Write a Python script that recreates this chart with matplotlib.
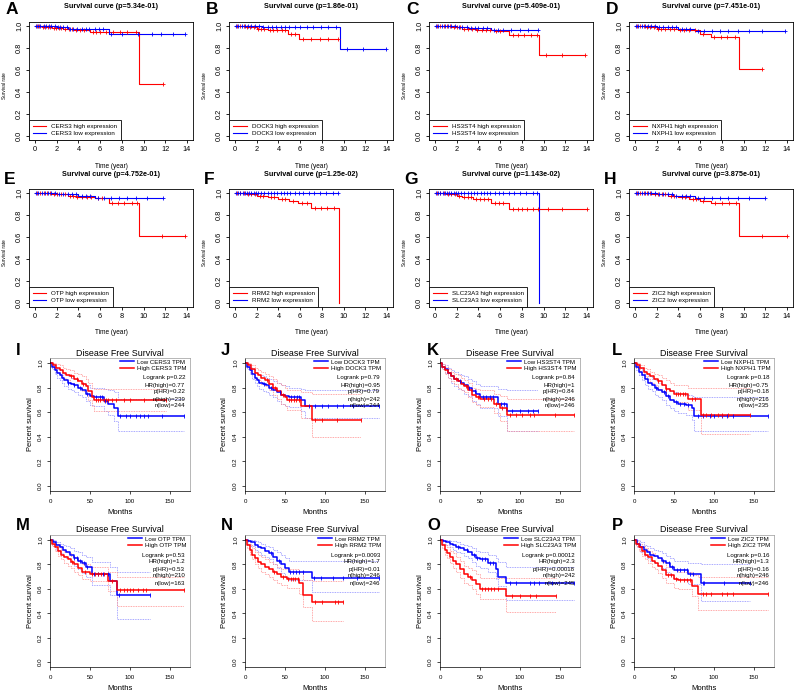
import numpy as np
import matplotlib
matplotlib.use('Agg')
import matplotlib.pyplot as plt

plt.rcParams['font.family'] = ['Liberation Sans', 'DejaVu Sans']

# ------------------------------------------------------------------ data
genes = ['CERS3', 'DOCK3', 'HS3ST4', 'NXPH1', 'OTP', 'RRM2', 'SLC23A3', 'ZIC2']
top_letters = ['A', 'B', 'C', 'D', 'E', 'F', 'G', 'H']
bot_letters = ['I', 'J', 'K', 'L', 'M', 'N', 'O', 'P']
top_pvals = ['5.34e-01', '1.86e-01', '5.409e-01', '7.451e-01',
             '4.752e-01', '1.25e-02', '1.143e-02', '3.875e-01']

# --- survival curves (years): high expression (red) / low expression (blue)
A_hi_t = [0, 0.6, 1.6, 2.6, 3.6, 5.1, 9.6]
A_hi_s = [1.0, 0.99, 0.985, 0.98, 0.97, 0.945, 0.47]
A_hi_end = 11.8
A_hi_c = [0.2, 0.4, 0.7, 0.9, 1.2, 1.4, 1.7, 1.9, 2.2, 2.4, 2.8, 3.1, 3.4, 3.8, 4.1, 4.5,
          5.3, 5.6, 6.0, 6.5, 7.2, 7.8, 8.5, 9.3, 11.8]
A_lo_t = [0, 2.0, 3.0, 4.2, 6.8]
A_lo_s = [1.0, 0.99, 0.98, 0.975, 0.93]
A_lo_end = 13.8
A_lo_c = [0.1, 0.3, 0.5, 0.8, 1.0, 1.3, 1.5, 1.8, 2.1, 2.3, 2.6, 2.9, 3.2, 3.5, 3.9, 4.3,
          4.7, 5.0, 5.5, 5.9, 6.3, 7.0, 8.0, 9.5, 10.8, 11.6, 12.7, 13.8]

B_hi_t = [0, 1.0, 2.0, 3.0, 4.9, 5.9]
B_hi_s = [1.0, 0.99, 0.98, 0.97, 0.93, 0.88]
B_hi_end = 9.5
B_hi_c = [0.2, 0.5, 0.8, 1.1, 1.4, 1.7, 2.1, 2.4, 2.7, 3.2, 3.5, 3.9, 4.3, 4.6, 5.2, 5.5,
          6.3, 7.0, 7.8, 8.6, 9.5]
B_lo_t = [0, 2.5, 9.7]
B_lo_s = [1.0, 0.995, 0.79]
B_lo_end = 13.9
B_lo_c = [0.1, 0.3, 0.6, 0.9, 1.2, 1.5, 1.8, 2.2, 2.6, 3.0, 3.4, 3.8, 4.2, 4.6, 5.0, 5.5,
          6.0, 6.6, 7.2, 7.9, 8.6, 9.3, 10.3, 11.8, 13.9]

C_hi_t = [0, 1.5, 2.5, 3.8, 5.5, 6.8, 9.6]
C_hi_s = [1.0, 0.99, 0.98, 0.97, 0.96, 0.92, 0.735]
C_hi_end = 13.8
C_hi_c = [0.2, 0.5, 0.8, 1.1, 1.4, 1.7, 2.0, 2.3, 2.7, 3.0, 3.4, 3.9, 4.3, 4.7, 5.1, 5.6,
          6.0, 7.2, 7.6, 8.2, 8.8, 9.4, 10.2, 11.7, 13.8]
C_lo_t = [0, 2.0, 3.0, 5.2]
C_lo_s = [1.0, 0.99, 0.985, 0.965]
C_lo_end = 9.5
C_lo_c = [0.1, 0.3, 0.6, 0.9, 1.2, 1.5, 1.8, 2.2, 2.5, 2.9, 3.3, 3.7, 4.0, 4.4, 4.8,
          5.4, 5.8, 6.3, 7.0, 7.8, 8.6, 9.5]

D_hi_t = [0, 1.0, 2.0, 4.0, 6.0, 7.0, 9.6]
D_hi_s = [1.0, 0.99, 0.98, 0.97, 0.93, 0.90, 0.61]
D_hi_end = 11.7
D_hi_c = [0.2, 0.5, 0.8, 1.1, 1.4, 1.7, 2.1, 2.4, 2.8, 3.2, 3.6, 4.1, 4.5, 5.0, 5.5,
          6.3, 7.3, 7.9, 8.5, 9.2, 11.7]
D_lo_t = [0, 2.0, 4.0, 5.5]
D_lo_s = [1.0, 0.99, 0.975, 0.955]
D_lo_end = 13.8
D_lo_c = [0.1, 0.3, 0.6, 0.9, 1.2, 1.5, 1.8, 2.2, 2.6, 3.0, 3.4, 3.8, 4.3, 4.7, 5.1,
          5.8, 6.4, 7.1, 7.8, 8.6, 9.5, 10.5, 11.7, 13.8]

E_hi_t = [0, 1.5, 3.0, 3.8, 5.5, 6.8, 9.6]
E_hi_s = [1.0, 0.99, 0.98, 0.97, 0.96, 0.915, 0.61]
E_hi_end = 13.8
E_hi_c = [0.2, 0.5, 0.8, 1.1, 1.4, 1.7, 2.0, 2.4, 2.8, 3.2, 3.5, 3.9, 4.3, 4.8, 5.2,
          5.8, 6.2, 7.1, 7.6, 8.2, 8.9, 9.4, 11.7, 13.8]
E_lo_t = [0, 2.0, 4.0, 5.5]
E_lo_s = [1.0, 0.99, 0.98, 0.955]
E_lo_end = 11.8
E_lo_c = [0.1, 0.3, 0.6, 0.9, 1.2, 1.5, 1.8, 2.2, 2.6, 3.0, 3.4, 3.8, 4.3, 4.7, 5.1,
          5.8, 6.4, 7.0, 7.7, 8.5, 9.3, 10.3, 11.8]

F_hi_t = [0, 1.0, 2.0, 3.0, 4.0, 5.0, 5.8, 7.0, 9.6]
F_hi_s = [1.0, 0.99, 0.98, 0.97, 0.95, 0.93, 0.91, 0.87, 0.0]
F_hi_end = 9.6
F_hi_c = [0.2, 0.5, 0.8, 1.2, 1.5, 1.8, 2.3, 2.6, 3.3, 3.6, 4.3, 4.6, 5.3, 6.2, 6.6,
          7.4, 7.9, 8.5, 9.1]
F_lo_t = [0]
F_lo_s = [1.0]
F_lo_end = 9.5
F_lo_c = [0.1, 0.3, 0.5, 0.7, 0.9, 1.1, 1.3, 1.5, 1.7, 1.9, 2.1, 2.4, 2.7, 3.0, 3.3, 3.6,
          3.9, 4.2, 4.5, 4.8, 5.1, 5.5, 5.9, 6.3, 6.8, 7.3, 7.8, 8.4, 9.0, 9.5]

G_hi_t = [0, 1.0, 2.0, 2.5, 3.5, 5.2, 6.8]
G_hi_s = [1.0, 0.99, 0.98, 0.965, 0.945, 0.915, 0.855]
G_hi_end = 14.0
G_hi_c = [0.2, 0.5, 0.8, 1.2, 1.5, 1.8, 2.2, 2.7, 3.0, 3.3, 3.8, 4.1, 4.5, 4.9, 5.5,
          5.9, 6.3, 7.2, 7.6, 8.0, 8.5, 9.0, 9.5, 10.4, 11.7, 14.0]
G_lo_t = [0, 9.6]
G_lo_s = [1.0, 0.0]
G_lo_end = 9.6
G_lo_c = [0.1, 0.3, 0.5, 0.7, 0.9, 1.1, 1.3, 1.5, 1.7, 1.9, 2.1, 2.4, 2.7, 3.0, 3.3, 3.6,
          3.9, 4.2, 4.5, 4.8, 5.1, 5.5, 5.9, 6.3, 6.8, 7.3, 7.8, 8.4, 9.0, 9.4]

H_hi_t = [0, 1.5, 3.0, 4.0, 5.0, 6.0, 7.0, 9.6]
H_hi_s = [1.0, 0.99, 0.98, 0.97, 0.95, 0.93, 0.91, 0.61]
H_hi_end = 14.0
H_hi_c = [0.2, 0.5, 0.8, 1.1, 1.4, 1.8, 2.1, 2.5, 2.8, 3.3, 3.6, 4.3, 4.6, 5.3, 5.6,
          6.3, 7.4, 8.0, 8.7, 9.3, 11.7, 14.0]
H_lo_t = [0, 2.0, 3.5, 5.5]
H_lo_s = [1.0, 0.99, 0.975, 0.955]
H_lo_end = 12.0
H_lo_c = [0.1, 0.3, 0.6, 0.9, 1.2, 1.5, 1.8, 2.2, 2.6, 3.0, 3.4, 3.8, 4.3, 4.7, 5.1,
          5.8, 6.4, 7.1, 7.8, 8.6, 9.5, 10.5, 12.0]

# --- disease free survival (months): low TPM (blue) / high TPM (red), with 95% CI
I_lo_t = [0, 3, 6, 9, 12, 15, 18, 22, 26, 30, 35, 40, 45, 50, 55, 68, 72, 80, 85]
I_lo_s = [1.0, 0.97, 0.94, 0.92, 0.90, 0.88, 0.86, 0.84, 0.83, 0.82, 0.80, 0.78, 0.75, 0.73, 0.72, 0.69, 0.67, 0.63, 0.57]
I_lo_hi = [1.0, 0.99, 0.97, 0.95, 0.94, 0.92, 0.91, 0.89, 0.88, 0.87, 0.86, 0.84, 0.82, 0.80, 0.80, 0.79, 0.78, 0.76, 0.71]
I_lo_lo = [1.0, 0.95, 0.91, 0.88, 0.86, 0.84, 0.81, 0.79, 0.78, 0.76, 0.74, 0.72, 0.69, 0.66, 0.65, 0.61, 0.58, 0.53, 0.45]
I_lo_end = 168
I_lo_c = [22, 30, 38, 46, 58, 62, 65, 69, 88, 95, 100, 108, 112, 118, 122, 140, 168]
I_hi_t = [0, 4, 8, 12, 16, 20, 25, 30, 35, 40, 45, 48, 52, 55]
I_hi_s = [1.0, 0.98, 0.96, 0.94, 0.92, 0.90, 0.89, 0.87, 0.85, 0.83, 0.81, 0.77, 0.72, 0.70]
I_hi_hi = [1.0, 1.0, 0.99, 0.98, 0.96, 0.95, 0.94, 0.92, 0.91, 0.89, 0.87, 0.84, 0.80, 0.79]
I_hi_lo = [1.0, 0.96, 0.93, 0.90, 0.88, 0.86, 0.84, 0.82, 0.80, 0.77, 0.75, 0.70, 0.65, 0.61]
I_hi_end = 145
I_hi_c = [26, 34, 41, 57, 60, 63, 67, 70, 73, 77, 82, 92, 100, 118, 145]

J_lo_t = [0, 3, 6, 9, 12, 15, 18, 22, 26, 30, 35, 40, 45, 50, 55, 70, 75]
J_lo_s = [1.0, 0.97, 0.94, 0.91, 0.88, 0.86, 0.84, 0.83, 0.82, 0.80, 0.78, 0.76, 0.74, 0.73, 0.72, 0.70, 0.65]
J_lo_hi = [1.0, 0.99, 0.97, 0.95, 0.93, 0.91, 0.90, 0.89, 0.88, 0.87, 0.85, 0.84, 0.82, 0.81, 0.80, 0.79, 0.78]
J_lo_lo = [1.0, 0.95, 0.91, 0.87, 0.84, 0.81, 0.79, 0.77, 0.76, 0.74, 0.72, 0.69, 0.67, 0.65, 0.64, 0.61, 0.55]
J_lo_end = 168
J_lo_c = [24, 33, 44, 57, 61, 65, 68, 80, 88, 96, 104, 115, 122, 135, 168]
J_hi_t = [0, 4, 8, 12, 16, 20, 25, 30, 35, 40, 45, 50, 52, 70, 84]
J_hi_s = [1.0, 0.98, 0.95, 0.92, 0.90, 0.88, 0.86, 0.83, 0.80, 0.77, 0.74, 0.72, 0.70, 0.65, 0.54]
J_hi_hi = [1.0, 1.0, 0.98, 0.96, 0.94, 0.93, 0.91, 0.89, 0.87, 0.84, 0.82, 0.80, 0.78, 0.76, 0.75]
J_hi_lo = [1.0, 0.96, 0.92, 0.88, 0.86, 0.83, 0.81, 0.78, 0.74, 0.71, 0.67, 0.65, 0.62, 0.55, 0.40]
J_hi_end = 145
J_hi_c = [28, 38, 48, 55, 58, 61, 64, 67, 88, 96, 115, 145]

K_lo_t = [0, 3, 6, 10, 14, 18, 22, 26, 30, 35, 40, 45, 50, 72, 84]
K_lo_s = [1.0, 0.97, 0.95, 0.92, 0.89, 0.87, 0.85, 0.84, 0.82, 0.80, 0.77, 0.75, 0.72, 0.67, 0.61]
K_lo_hi = [1.0, 0.99, 0.98, 0.96, 0.94, 0.93, 0.91, 0.90, 0.89, 0.87, 0.85, 0.83, 0.81, 0.79, 0.78]
K_lo_lo = [1.0, 0.95, 0.92, 0.88, 0.84, 0.81, 0.79, 0.78, 0.75, 0.73, 0.69, 0.67, 0.63, 0.57, 0.45]
K_lo_end = 122
K_lo_c = [25, 36, 44, 54, 58, 62, 66, 76, 80, 90, 100, 110, 116, 122]
K_hi_t = [0, 3, 6, 10, 14, 18, 22, 26, 30, 35, 40, 45, 50, 68, 75, 84]
K_hi_s = [1.0, 0.97, 0.94, 0.92, 0.89, 0.87, 0.85, 0.83, 0.81, 0.78, 0.74, 0.72, 0.71, 0.67, 0.63, 0.58]
K_hi_hi = [1.0, 0.99, 0.97, 0.95, 0.93, 0.91, 0.90, 0.88, 0.86, 0.84, 0.80, 0.79, 0.78, 0.75, 0.73, 0.71]
K_hi_lo = [1.0, 0.95, 0.91, 0.88, 0.85, 0.83, 0.80, 0.78, 0.76, 0.72, 0.68, 0.66, 0.64, 0.59, 0.53, 0.45]
K_hi_end = 168
K_hi_c = [20, 32, 47, 55, 60, 64, 70, 78, 88, 95, 102, 112, 118, 144, 168]

L_lo_t = [0, 3, 6, 10, 14, 18, 22, 26, 30, 35, 40, 45, 50, 55, 65, 72, 75]
L_lo_s = [1.0, 0.97, 0.93, 0.90, 0.87, 0.84, 0.82, 0.80, 0.78, 0.76, 0.73, 0.70, 0.68, 0.67, 0.66, 0.63, 0.57]
L_lo_hi = [1.0, 0.99, 0.96, 0.94, 0.91, 0.89, 0.87, 0.86, 0.84, 0.82, 0.80, 0.77, 0.76, 0.75, 0.74, 0.73, 0.72]
L_lo_lo = [1.0, 0.94, 0.90, 0.86, 0.82, 0.79, 0.77, 0.74, 0.72, 0.70, 0.66, 0.63, 0.61, 0.59, 0.58, 0.54, 0.45]
L_lo_end = 168
L_lo_c = [28, 38, 43, 52, 57, 62, 68, 80, 86, 95, 100, 110, 116, 124, 168]
L_hi_t = [0, 4, 8, 12, 16, 20, 25, 30, 35, 40, 45, 50, 68, 84]
L_hi_s = [1.0, 0.98, 0.96, 0.93, 0.91, 0.89, 0.87, 0.85, 0.82, 0.79, 0.77, 0.75, 0.71, 0.58]
L_hi_hi = [1.0, 1.0, 0.98, 0.96, 0.95, 0.93, 0.91, 0.90, 0.88, 0.86, 0.84, 0.82, 0.80, 0.80]
L_hi_lo = [1.0, 0.96, 0.93, 0.89, 0.87, 0.84, 0.82, 0.79, 0.76, 0.73, 0.70, 0.68, 0.62, 0.42]
L_hi_end = 145
L_hi_c = [30, 40, 52, 55, 58, 61, 64, 72, 76, 86, 90, 96, 105, 110, 118, 145]

M_lo_t = [0, 4, 8, 12, 16, 20, 25, 30, 35, 40, 45, 52, 75, 84]
M_lo_s = [1.0, 0.98, 0.96, 0.94, 0.92, 0.90, 0.88, 0.85, 0.83, 0.81, 0.78, 0.72, 0.66, 0.55]
M_lo_hi = [1.0, 1.0, 0.98, 0.97, 0.96, 0.95, 0.93, 0.91, 0.90, 0.88, 0.86, 0.82, 0.78, 0.74]
M_lo_lo = [1.0, 0.95, 0.92, 0.89, 0.87, 0.85, 0.82, 0.79, 0.76, 0.73, 0.70, 0.63, 0.55, 0.35]
M_lo_end = 125
M_lo_c = [30, 34, 38, 42, 46, 55, 60, 66, 72, 86, 125]
M_hi_t = [0, 3, 6, 10, 14, 18, 22, 26, 30, 35, 40, 50, 72, 84]
M_hi_s = [1.0, 0.97, 0.94, 0.91, 0.88, 0.86, 0.84, 0.82, 0.80, 0.77, 0.74, 0.72, 0.66, 0.59]
M_hi_hi = [1.0, 0.99, 0.97, 0.95, 0.92, 0.90, 0.89, 0.87, 0.86, 0.83, 0.80, 0.78, 0.74, 0.70]
M_hi_lo = [1.0, 0.95, 0.91, 0.87, 0.84, 0.81, 0.79, 0.77, 0.74, 0.71, 0.68, 0.66, 0.58, 0.46]
M_hi_end = 168
M_hi_c = [28, 44, 52, 56, 60, 64, 68, 78, 88, 92, 96, 100, 104, 110, 116, 120, 168]

N_lo_t = [0, 4, 8, 12, 16, 20, 25, 30, 35, 40, 45, 50, 55, 84]
N_lo_s = [1.0, 0.99, 0.98, 0.96, 0.94, 0.93, 0.91, 0.89, 0.86, 0.83, 0.80, 0.77, 0.74, 0.69]
N_lo_hi = [1.0, 1.0, 1.0, 0.99, 0.98, 0.97, 0.95, 0.94, 0.92, 0.90, 0.88, 0.85, 0.83, 0.83]
N_lo_lo = [1.0, 0.97, 0.95, 0.92, 0.90, 0.88, 0.86, 0.84, 0.80, 0.77, 0.73, 0.70, 0.67, 0.57]
N_lo_end = 168
N_lo_c = [32, 42, 56, 60, 64, 68, 72, 86, 95, 110, 122, 140, 168]
N_hi_t = [0, 3, 6, 9, 12, 16, 20, 25, 30, 35, 40, 45, 52, 68, 73, 84]
N_hi_s = [1.0, 0.96, 0.92, 0.88, 0.85, 0.82, 0.80, 0.78, 0.76, 0.74, 0.72, 0.70, 0.68, 0.65, 0.55, 0.49]
N_hi_hi = [1.0, 0.99, 0.96, 0.93, 0.90, 0.88, 0.86, 0.84, 0.82, 0.80, 0.78, 0.76, 0.76, 0.74, 0.67, 0.66]
N_hi_lo = [1.0, 0.93, 0.88, 0.84, 0.80, 0.77, 0.74, 0.72, 0.70, 0.67, 0.65, 0.63, 0.61, 0.56, 0.45, 0.34]
N_hi_end = 122
N_hi_c = [36, 48, 54, 57, 60, 63, 66, 88, 96, 112, 116, 122]

O_lo_t = [0, 4, 8, 12, 16, 20, 25, 30, 35, 40, 45, 50, 60, 70, 72, 83]
O_lo_s = [1.0, 0.99, 0.98, 0.97, 0.96, 0.94, 0.93, 0.92, 0.90, 0.88, 0.85, 0.84, 0.81, 0.76, 0.70, 0.65]
O_lo_hi = [1.0, 1.0, 1.0, 0.99, 0.99, 0.98, 0.97, 0.96, 0.95, 0.93, 0.91, 0.90, 0.88, 0.85, 0.82, 0.78]
O_lo_lo = [1.0, 0.97, 0.96, 0.94, 0.92, 0.90, 0.89, 0.87, 0.85, 0.82, 0.79, 0.77, 0.74, 0.68, 0.62, 0.51]
O_lo_end = 168
O_lo_c = [22, 34, 42, 46, 52, 56, 62, 66, 88, 95, 112, 118, 124, 140, 168]
O_hi_t = [0, 3, 6, 9, 12, 16, 20, 25, 30, 35, 40, 45, 50, 83]
O_hi_s = [1.0, 0.96, 0.92, 0.89, 0.86, 0.83, 0.80, 0.76, 0.72, 0.70, 0.67, 0.64, 0.60, 0.54]
O_hi_hi = [1.0, 0.99, 0.96, 0.94, 0.91, 0.89, 0.86, 0.83, 0.79, 0.77, 0.75, 0.72, 0.69, 0.69]
O_hi_lo = [1.0, 0.93, 0.88, 0.85, 0.81, 0.77, 0.74, 0.69, 0.65, 0.63, 0.60, 0.56, 0.52, 0.41]
O_hi_end = 145
O_hi_c = [38, 52, 56, 60, 64, 68, 72, 90, 100, 112, 120, 145]

P_lo_t = [0, 4, 8, 12, 16, 20, 25, 30, 35, 40, 45, 50, 68, 84]
P_lo_s = [1.0, 0.97, 0.94, 0.92, 0.90, 0.88, 0.87, 0.85, 0.83, 0.81, 0.78, 0.75, 0.72, 0.65]
P_lo_hi = [1.0, 1.0, 0.98, 0.96, 0.95, 0.93, 0.92, 0.91, 0.89, 0.87, 0.85, 0.83, 0.81, 0.80]
P_lo_lo = [1.0, 0.94, 0.90, 0.88, 0.85, 0.83, 0.81, 0.79, 0.77, 0.74, 0.71, 0.68, 0.64, 0.50]
P_lo_end = 145
P_lo_c = [36, 44, 48, 54, 58, 62, 66, 70, 74, 86, 88, 112, 145]
P_hi_t = [0, 3, 6, 10, 14, 18, 22, 26, 30, 35, 40, 50, 55, 72, 80]
P_hi_s = [1.0, 0.97, 0.94, 0.91, 0.88, 0.86, 0.83, 0.81, 0.79, 0.75, 0.71, 0.68, 0.67, 0.62, 0.56]
P_hi_hi = [1.0, 0.99, 0.97, 0.95, 0.93, 0.91, 0.89, 0.87, 0.85, 0.82, 0.78, 0.75, 0.74, 0.71, 0.70]
P_hi_lo = [1.0, 0.95, 0.91, 0.87, 0.84, 0.81, 0.78, 0.76, 0.73, 0.69, 0.65, 0.61, 0.60, 0.54, 0.43]
P_hi_end = 168
P_hi_c = [42, 46, 52, 58, 62, 66, 70, 86, 90, 96, 110, 116, 124, 168]

logrank_p = ['0.22', '0.79', '0.84', '0.18', '0.53', '0.0093', '0.00012', '0.16']
hr_high = ['0.77', '0.95', '1', '0.75', '1.2', '1.7', '2.3', '1.3']
p_hr = ['0.22', '0.79', '0.84', '0.18', '0.53', '0.01', '0.00018', '0.16']
n_high = [239, 242, 246, 216, 210, 246, 242, 246]
n_low = [244, 244, 246, 235, 163, 246, 245, 246]

top_x_ticks = [0, 2, 4, 6, 8, 10, 12, 14]
y_ticks = [0.0, 0.2, 0.4, 0.6, 0.8, 1.0]
month_ticks = [0, 50, 100, 150]

# ------------------------------------------------------------------ helpers
W, H = 800, 691
fig = plt.figure(figsize=(W / 100, H / 100), dpi=100)
RED = '#FF0000'
BLUE = '#0000FF'
LRED = '#FF8C8C'
LBLUE = '#8C8CFF'
g = globals()


def add_axes_px(left, top, right, bottom):
    return fig.add_axes([left / W, 1 - bottom / H, (right - left) / W, (bottom - top) / H])


def step_curve(t, s, end):
    return list(t) + [end], list(s) + [s[-1]]


def surv_at(t, s, x):
    idx = np.searchsorted(np.asarray(t), np.asarray(x), side='right') - 1
    return np.asarray(s)[idx]


def style_axes(ax, lw, ticklen, fs, xpad, ypad):
    for sp in ax.spines.values():
        sp.set_linewidth(lw)
        sp.set_color('black')
    ax.tick_params(length=ticklen, width=lw, labelsize=fs)
    ax.tick_params(axis='x', pad=xpad)
    ax.tick_params(axis='y', pad=ypad)
    for lab in ax.get_yticklabels():
        lab.set_rotation(90)
        lab.set_va('center')


# ------------------------------------------------------------------ top rows
for i, key in enumerate(top_letters):
    row, col = divmod(i, 4)
    top, bottom = (22, 140) if row == 0 else (189, 307)
    left = col * 200 + 29
    right = col * 200 + 193
    ax = add_axes_px(left, top, right, bottom)
    hi_t, hi_s = step_curve(g[key + '_hi_t'], g[key + '_hi_s'], g[key + '_hi_end'])
    lo_t, lo_s = step_curve(g[key + '_lo_t'], g[key + '_lo_s'], g[key + '_lo_end'])
    l1, = ax.step(hi_t, hi_s, where='post', color=RED, lw=0.8)
    l2, = ax.step(lo_t, lo_s, where='post', color=BLUE, lw=0.8)
    hc = g[key + '_hi_c']
    lc = g[key + '_lo_c']
    ax.plot(hc, surv_at(hi_t, hi_s, hc), ls='none', marker='+', ms=3.2, mew=0.6, color=RED)
    ax.plot(lc, surv_at(lo_t, lo_s, lc), ls='none', marker='+', ms=3.2, mew=0.6, color=BLUE)
    ax.set_xlim(-0.56, 14.56)
    ax.set_ylim(-0.04, 1.04)
    ax.set_xticks(top_x_ticks)
    ax.set_yticks(y_ticks)
    ax.set_yticklabels(['%.1f' % v for v in y_ticks])
    style_axes(ax, 0.6, 2.2, 5.3, 2.4, 2.0)
    leg = ax.legend([l1, l2], [genes[i] + ' high expression', genes[i] + ' low expression'],
                    loc='lower left', borderaxespad=0, fontsize=4.5, fancybox=False,
                    edgecolor='black', framealpha=1, handlelength=2.2, handletextpad=0.8,
                    borderpad=0.6, labelspacing=0.25)
    leg.get_frame().set_linewidth(0.6)
    cx = (left + right) / 2
    fig.text(cx / W, 1 - (top - 15) / H, 'Survival curve (p=%s)' % top_pvals[i],
             ha='center', va='center', fontsize=5.2, fontweight='bold')
    fig.text(cx / W, 1 - (bottom + 26) / H, 'Time (year)', ha='center', va='center', fontsize=4.7)
    fig.text((col * 200 + 5) / W, 1 - ((top + bottom) / 2 + 5) / H, 'Survival rate',
             ha='center', va='center', rotation=90, fontsize=3.4)
    lx = col * 200 + (6 if row == 0 else 4)
    ly = 2 if row == 0 else 172
    fig.text(lx / W, 1 - ly / H, key, ha='left', va='top', fontsize=12.5, fontweight='bold')

# ------------------------------------------------------------------ bottom rows (GEPIA)
gep_left = [50, 245, 440, 634]
gep_letter_x = [16, 221, 427, 612]
for i, key in enumerate(bot_letters):
    row, col = divmod(i, 4)
    top, bottom = (358, 491) if row == 0 else (535, 667)
    left = gep_left[col]
    right = left + 140
    ax = add_axes_px(left, top, right, bottom)
    lo_t, lo_s = step_curve(g[key + '_lo_t'], g[key + '_lo_s'], g[key + '_lo_end'])
    hi_t, hi_s = step_curve(g[key + '_hi_t'], g[key + '_hi_s'], g[key + '_hi_end'])
    _, lo_up = step_curve(g[key + '_lo_t'], g[key + '_lo_hi'], g[key + '_lo_end'])
    _, lo_dn = step_curve(g[key + '_lo_t'], g[key + '_lo_lo'], g[key + '_lo_end'])
    _, hi_up = step_curve(g[key + '_hi_t'], g[key + '_hi_hi'], g[key + '_hi_end'])
    _, hi_dn = step_curve(g[key + '_hi_t'], g[key + '_hi_lo'], g[key + '_hi_end'])
    for yy in (lo_up, lo_dn):
        ax.step(lo_t, yy, where='post', color=LBLUE, lw=0.6, ls=(0, (1, 1)))
    for yy in (hi_up, hi_dn):
        ax.step(hi_t, yy, where='post', color=LRED, lw=0.6, ls=(0, (1, 1)))
    lb, = ax.step(lo_t, lo_s, where='post', color=BLUE, lw=1.1)
    lr, = ax.step(hi_t, hi_s, where='post', color=RED, lw=1.1)
    lc = g[key + '_lo_c']
    hc = g[key + '_hi_c']
    ax.plot(lc, surv_at(lo_t, lo_s, lc), ls='none', marker='|', ms=3.5, mew=0.6, color=BLUE)
    ax.plot(hc, surv_at(hi_t, hi_s, hc), ls='none', marker='|', ms=3.5, mew=0.6, color=RED)
    ax.set_xlim(0, 175)
    ax.set_ylim(-0.04, 1.04)
    ax.set_xticks(month_ticks)
    ax.set_yticks(y_ticks)
    ax.set_yticklabels(['%.1f' % v for v in y_ticks])
    style_axes(ax, 0.5, 2.5, 4.4, 3.0, 2.4)
    for sp in ('top', 'right'):
        ax.spines[sp].set_color('#9a9a9a')
    leg = ax.legend([lb, lr], ['Low %s TPM' % genes[i], 'High %s TPM' % genes[i]],
                    loc='upper right', bbox_to_anchor=(0.975, 0.99), borderaxespad=0,
                    borderpad=0, fontsize=4.4, frameon=False, handlelength=2.3,
                    handletextpad=0.5, labelspacing=0.15)
    stats = ['Logrank p=' + logrank_p[i], 'HR(high)=' + hr_high[i], 'p(HR)=' + p_hr[i],
             'n(high)=%d' % n_high[i], 'n(low)=%d' % n_low[i]]
    for k, txt in enumerate(stats):
        ypx = top + 20 + 7 * k
        ax.text(0.965, (bottom - ypx) / (bottom - top), txt, transform=ax.transAxes,
                ha='right', va='center', fontsize=4.4)
    cx = (left + right) / 2
    fig.text(cx / W, 1 - (top - 5) / H, 'Disease Free Survival', ha='center', va='center',
             fontsize=6.4)
    fig.text(cx / W, 1 - (bottom + 21) / H, 'Months', ha='center', va='center', fontsize=5.6)
    fig.text((left - 20) / W, 1 - ((top + bottom) / 2) / H, 'Percent survival',
             ha='center', va='center', rotation=90, fontsize=5.4)
    ly = 343 if row == 0 else 518
    fig.text(gep_letter_x[col] / W, 1 - ly / H, key, ha='left', va='top', fontsize=12,
             fontweight='bold')

fig.savefig('out.png', dpi=100)
